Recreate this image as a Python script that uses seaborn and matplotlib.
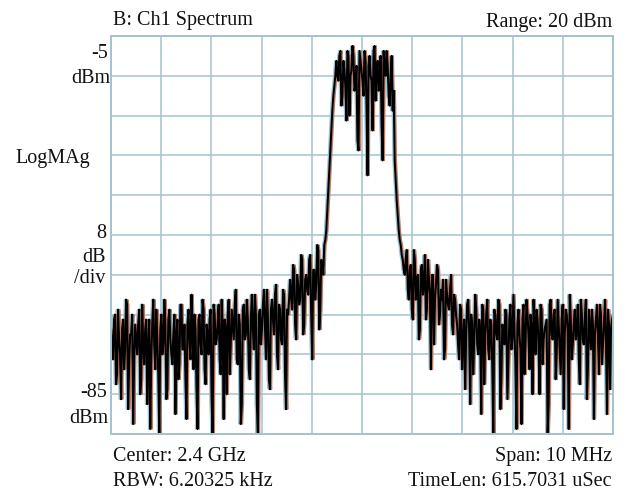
import numpy as np
import pandas as pd
import seaborn as sns
import matplotlib
matplotlib.use("Agg")
import matplotlib.pyplot as plt
from matplotlib.transforms import ScaledTranslation

# ---- data ----
span_mhz = 10
ref_dbm = -5
bottom_dbm = -85
db_per_div = 8

# samples on the even bins
left_floor = [
    -64, -70, -61, -73, -66, -78, -62, -68, -59, -71, -65, -83, -63, -69, -60, -74, -67, -64, -79, -62,
    -70, -58, -72, -66, -85, -61, -67, -63, -76, -60, -69, -65, -81, -62, -71, -59, -68, -74, -63, -66,
    -57, -72, -64, -84, -61, -69, -60, -75, -65, -62, -78, -59, -67, -63, -70, -58, -82, -64, -61, -73,
    -60, -66, -56, -71, -63, -79, -59, -65, -62, -74, -57, -68, -61, -85, -60, -64, -56, -70, -62, -76,
    -58, -65, -55, -72, -60, -67, -57, -80, -61]
left_shoulder = [-54, -60, -52, -66, -55, -58, -50, -63, -53, -57, -49, -70, -52, -55, -48, -60, -51, -47]
rise = [-44, -36, -28, -20, -15]
plateau = [-10, -14, -8, -17, -12, -22, -9, -13, -7, -16, -11, -28, -10, -14, -8, -19, -11, -13, -24,
           -7, -12, -16, -9, -30, -11, -8, -17, -13, -20]
drop = [-30, -38, -44, -47, -50]
right_shoulder = [-53, -48, -58, -51, -62, -50, -55, -66, -52, -57, -49, -60, -54, -72, -53, -58, -51,
                  -63, -56, -54, -68, -57, -60, -53, -65]
right_floor = [
    -58, -63, -70, -60, -66, -76, -59, -64, -61, -73, -57, -67, -62, -81, -60, -65, -58, -70, -63, -85,
    -61, -66, -59, -74, -64, -60, -78, -62, -68, -57, -71, -63, -65, -83, -59, -67, -61, -72, -64, -58,
    -69, -62, -77, -60, -66, -63, -85, -59, -65, -61, -74, -58, -68, -62, -80, -60, -64, -57, -70, -63,
    -66, -59, -75, -61, -67, -58, -72, -64, -60, -82, -62, -65, -59, -71, -63, -66, -60, -76, -62]

# samples on the odd bins
left_floor_b = [
    -67, -62, -75, -60, -69, -64, -72, -58, -80, -65, -61, -70, -66, -63, -77, -59, -71, -62, -68, -84,
    -63, -67, -60, -73, -64, -69, -58, -78, -62, -66, -71, -61, -65, -74, -59, -68, -63, -82, -60, -70,
    -64, -61, -76, -62, -67, -58, -72, -63, -69, -60, -85, -61, -66, -59, -73, -64, -62, -77, -58, -67,
    -63, -59, -70, -61, -83, -60, -66, -58, -72, -62, -64, -57, -79, -61, -67, -59, -63, -56, -74, -60,
    -62, -57, -69, -59, -66, -56, -73, -60, -58]
left_shoulder_b = [-57, -51, -63, -53, -59, -49, -65, -54, -56, -50, -61, -52, -58, -47, -64, -50, -53, -46]
rise_b = [-40, -32, -24, -17, -13]
plateau_b = [-13, -9, -19, -10, -15, -8, -21, -12, -9, -15, -26, -8, -12, -17, -10, -33, -9, -14, -8,
             -18, -10, -15, -23, -8, -13, -11, -19, -9, -16]
drop_b = [-34, -41, -46, -49, -52]
right_shoulder_b = [-50, -56, -52, -60, -48, -58, -53, -64, -51, -55, -62, -50, -57, -53, -67, -55, -52,
                    -61, -58, -70, -54, -59, -56, -63, -57]
right_floor_b = [
    -61, -67, -59, -72, -62, -65, -58, -79, -63, -66, -60, -69, -64, -59, -75, -61, -68, -62, -71, -60,
    -65, -58, -80, -63, -67, -61, -70, -59, -66, -64, -84, -60, -68, -62, -73, -58, -65, -61, -77, -63,
    -60, -67, -59, -71, -64, -62, -79, -58, -66, -60, -69, -63, -73, -59, -65, -61, -84, -62, -67, -60,
    -64, -70, -58, -66, -62, -78, -60, -68, -63, -65, -59, -73, -61, -67, -58, -81, -63, -64, -61]

even = left_floor + left_shoulder + rise + plateau + drop + right_shoulder + right_floor
odd = left_floor_b + left_shoulder_b + rise_b + plateau_b + drop_b + right_shoulder_b + right_floor_b

n_bins = len(even) + len(odd)
step = span_mhz / (n_bins - 1)
f_even = -span_mhz / 2 + step * 2 * np.arange(len(even))
f_odd = -span_mhz / 2 + step * (2 * np.arange(len(odd)) + 1)
df = pd.concat([pd.DataFrame({"freq": f_even, "dbm": even}),
                pd.DataFrame({"freq": f_odd, "dbm": odd})]).sort_values("freq")

# ---- figure ----
W, H = 634, 491
sns.set_style("white")
plt.rcParams["font.family"] = ["Liberation Serif", "DejaVu Serif"]
fig = plt.figure(figsize=(W / 100, H / 100), dpi=100)
ax = fig.add_axes([111 / W, 1 - 434 / H, 502 / W, 398 / H])

grid_c = "#a3c3cd"
ghosts = [("#9cc0cc", -0.015), ("#b47a68", 0.015)]
for col, dx in ghosts:
    sns.lineplot(data=df, x="freq", y="dbm", color=col, lw=1.2, estimator=None, sort=False, ax=ax)
    ln = ax.lines[-1]
    ln.set_transform(ax.transData + ScaledTranslation(dx, 0, fig.dpi_scale_trans))
sns.lineplot(data=df, x="freq", y="dbm", color="black", lw=1.5, estimator=None, sort=False, ax=ax)

ax.set_xlim(-span_mhz / 2, span_mhz / 2)
ax.set_ylim(bottom_dbm, ref_dbm)
ax.set_xticks(np.arange(-5, 6, 1))
ax.set_yticks(np.arange(bottom_dbm, ref_dbm + 1, db_per_div))
ax.tick_params(length=0, labelbottom=False, labelleft=False)
ax.set_xlabel("")
ax.set_ylabel("")
ax.grid(True, color=grid_c, lw=1.1)
ax.set_axisbelow(True)
for s in ax.spines.values():
    s.set_color(grid_c)
    s.set_linewidth(1.4)

fs = 14.5


def ftext(x, y, s, ha="left"):
    fig.text(x / W, 1 - y / H, s, ha=ha, va="baseline", fontsize=fs, color="#111111")


ftext(113, 25, "B: Ch1 Spectrum")
ftext(612, 27, "Range: 20 dBm", ha="right")
ftext(108, 58, "-5", ha="right")
ftext(110, 83, "dBm", ha="right")
ftext(15, 163, "LogMAg")
ftext(106, 238, "8", ha="right")
ftext(106, 262, "dB", ha="right")
ftext(106, 283, "/div", ha="right")
ftext(107, 397, "-85", ha="right")
ftext(108, 423, "dBm", ha="right")
ftext(113, 461, "Center: 2.4 GHz")
ftext(113, 486, "RBW: 6.20325 kHz")
ftext(612, 461, "Span: 10 MHz", ha="right")
ftext(612, 486, "TimeLen: 615.7031 uSec", ha="right")

fig.savefig("out.png", dpi=100)
